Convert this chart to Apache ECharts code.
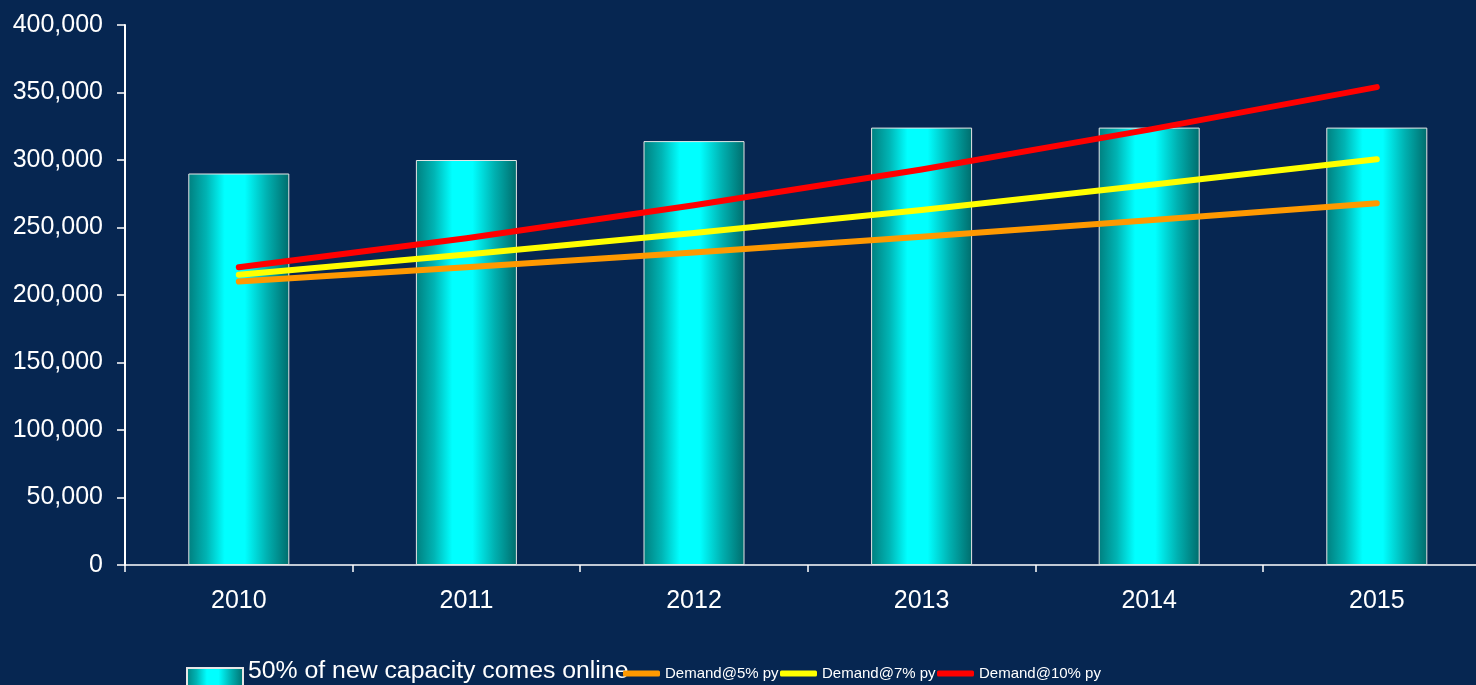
<!DOCTYPE html>
<html>
<head>
<meta charset="utf-8">
<script src="https://cdn.jsdelivr.net/npm/echarts@6/dist/echarts.min.js"></script>
<style>
  html, body { margin: 0; padding: 0; background: #062651; }
  #chart { width: 1476px; height: 685px; }
</style>
</head>
<body>
<div id="chart"></div>
<script>
  var years = ['2010', '2011', '2012', '2013', '2014', '2015'];
  var capacity = [290000, 300000, 314000, 324000, 324000, 324000];
  var demand5 = [210000, 220500, 231500, 243100, 255300, 268000];
  var demand7 = [215000, 230000, 246000, 263000, 281500, 300500];
  var demand10 = [220500, 242000, 266500, 293000, 322500, 354000];

  var capName = '50% of new capacity comes online';
  var lineNames = ['Demand@5% py', 'Demand@7% py', 'Demand@10% py'];
  var lineColors = ['#ff9900', '#ffff00', '#ff0000'];

  var chart = echarts.init(document.getElementById('chart'), null, { renderer: 'canvas' });

  var barGradient = {
    type: 'linear', x: 0, y: 0, x2: 1, y2: 0,
    colorStops: [
      { offset: 0, color: '#007f7f' },
      { offset: 0.18, color: '#00b4b4' },
      { offset: 0.36, color: '#00ffff' },
      { offset: 0.56, color: '#00ffff' },
      { offset: 0.78, color: '#00b0b0' },
      { offset: 1, color: '#006c6c' }
    ]
  };

  function lineSeries(i, data) {
    return {
      name: lineNames[i], type: 'line', data: data,
      symbol: 'none', smooth: false,
      lineStyle: { color: lineColors[i], width: 6, cap: 'round', join: 'round' },
      itemStyle: { color: lineColors[i] },
      z: 3
    };
  }

  var legendFont = 'Liberation Sans, Arial, sans-serif';
  // bar legend: icon sits lower than its text, so icon and text are two legends
  var legends = [{
    data: [{ name: capName, icon: 'rect' }],
    left: 186, top: 667, padding: 0,
    itemWidth: 56, itemHeight: 22,
    formatter: function () { return ''; }
  }, {
    data: [{ name: capName, icon: 'none' }],
    left: 243, top: 659, padding: 0,
    itemWidth: 0, itemHeight: 10,
    textStyle: { color: '#ffffff', fontSize: 24.8, fontFamily: legendFont }
  }];
  // line legends placed one by one to keep the original spacing
  var lineLegendLeft = [623, 780, 937];
  lineNames.forEach(function (n, i) {
    legends.push({
      data: [{ name: n, icon: 'roundRect' }],
      left: lineLegendLeft[i], top: 666, padding: 0,
      itemWidth: 37, itemHeight: 6,
      textStyle: { color: '#ffffff', fontSize: 15, fontFamily: legendFont }
    });
  });

  chart.setOption({
    backgroundColor: '#062651',
    animation: false,
    legend: legends,
    grid: { left: 125, top: 25, width: 1365.6, bottom: 120, containLabel: false, outerBoundsMode: 'none' },
    xAxis: {
      type: 'category',
      data: years,
      boundaryGap: true,
      axisLine: { lineStyle: { color: '#ffffff', width: 1.5 } },
      axisTick: { show: true, length: 7, lineStyle: { color: '#ffffff', width: 1.5 } },
      axisLabel: { color: '#ffffff', fontSize: 25, margin: 24, fontFamily: legendFont },
      splitLine: { show: false }
    },
    yAxis: {
      type: 'value', min: 0, max: 400000, interval: 50000,
      axisLine: { show: true, lineStyle: { color: '#ffffff', width: 2 } },
      axisTick: { show: true, length: 8, lineStyle: { color: '#ffffff', width: 1.5 } },
      axisLabel: {
        color: '#ffffff', fontSize: 25, margin: 22, fontFamily: legendFont,
        formatter: function (v) { return v.toLocaleString('en-US'); }
      },
      splitLine: { show: false }
    },
    series: [
      {
        name: capName, type: 'bar', data: capacity,
        barWidth: 101,
        itemStyle: { color: barGradient, borderColor: '#e6e6e6', borderWidth: 1 },
        z: 2
      },
      lineSeries(0, demand5),
      lineSeries(1, demand7),
      lineSeries(2, demand10)
    ]
  });
</script>
</body>
</html>
